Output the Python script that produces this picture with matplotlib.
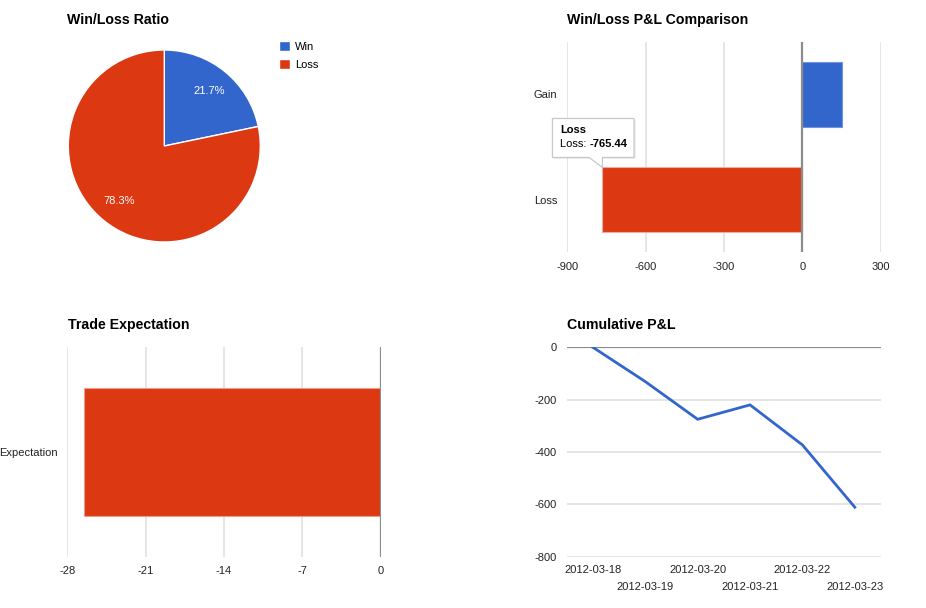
import matplotlib
matplotlib.use("Agg")
import matplotlib.pyplot as plt
import matplotlib.transforms as mtransforms
from matplotlib.patches import Polygon

plt.rcParams['font.family'] = ['Liberation Sans', 'DejaVu Sans']
plt.rcParams['axes.unicode_minus'] = False

# data
ratio_labels = ["Win", "Loss"]
ratio_counts = [5, 18]

pnl_categories = ["Gain", "Loss"]
pnl_values = [150.5, -765.44]

expect_categories = ["Expectation"]
expect_values = [-26.5]

cum_dates = ["2012-03-18", "2012-03-19", "2012-03-20", "2012-03-21", "2012-03-22", "2012-03-23"]
cum_values = [0, -131, -275, -220, -373, -611]

BLUE = "#3366cc"
RED = "#dc3912"
GRID = "#e3e3e3"
BASE = "#8c8c8c"
TXT = "#222222"

W, H = 926, 608
fig = plt.figure(figsize=(W / 100, H / 100), dpi=100)


def px_axes(left, top, right, bottom):
    return fig.add_axes([left / W, 1 - bottom / H, (right - left) / W, (bottom - top) / H])


def clean(ax):
    for s in ax.spines.values():
        s.set_visible(False)
    ax.tick_params(length=0, labelsize=8, colors=TXT)
    ax.set_axisbelow(True)


def title(x, y, s):
    fig.text(x / W, 1 - y / H, s, fontsize=10.2, fontweight="bold", va="center", ha="left", color="#000000")


# --- pie ---
title(67, 20, "Win/Loss Ratio")
r = 96
ax1 = px_axes(164.3 - r, 146 - r, 164.3 + r, 146 + r)
wedges, _, autotexts = ax1.pie(ratio_counts, colors=[BLUE, RED], startangle=90, counterclock=False,
                               autopct="%.1f%%", pctdistance=0.74,
                               wedgeprops=dict(edgecolor="white", linewidth=1),
                               textprops=dict(color="white", fontsize=8))
ax1.set_xlim(-1, 1)
ax1.set_ylim(-1, 1)
fig.legend(wedges, ratio_labels, loc="upper left", bbox_to_anchor=(279.3 / W, 1 - 41.5 / H),
           frameon=False, fontsize=8, handlelength=1.0, handleheight=1.0, handletextpad=0.45,
           labelspacing=0.6, borderpad=0, borderaxespad=0)

# --- win/loss P&L comparison ---
title(567, 20, "Win/Loss P&L Comparison")
ax2 = px_axes(567.3, 42, 880.7, 252)
clean(ax2)
ypos = list(range(len(pnl_categories)))
ax2.barh(ypos, pnl_values, height=0.61, color=[BLUE, RED], edgecolor=["#6f93e0", "#e8b0a5"], linewidth=0.8)
ax2.set_xlim(-900, 300)
ax2.set_ylim(len(pnl_categories) - 0.5, -0.5)
ax2.set_xticks([-900, -600, -300, 0, 300])
ax2.set_yticks(ypos)
ax2.set_yticklabels(pnl_categories)
ax2.tick_params(axis="y", pad=7)
ax2.tick_params(axis="x", pad=7)
ax2.grid(axis="x", color=GRID, linewidth=1.3)
ax2.axvline(0, color=BASE, linewidth=1.6)

# tooltip on the loss bar
anchor = mtransforms.Affine2D() + mtransforms.ScaledTranslation(pnl_values[1], 1 - 0.305, ax2.transData)
tip = Polygon([(-50, 10), (-50, 49), (31.6, 49), (31.6, 10), (0, 10), (0, 0), (-13.4, 10)],
              closed=True, facecolor="white", edgecolor="#c8c8c8", linewidth=0.9,
              transform=anchor, zorder=5, clip_on=False)
shadow = Polygon([(-48, 8), (-48, 47), (33.6, 47), (33.6, 8)], closed=True,
                 facecolor="#000000", alpha=0.06, edgecolor="none",
                 transform=anchor, zorder=4, clip_on=False)
ax2.add_patch(shadow)
ax2.add_patch(tip)
ax2.text(-42, 37.5, "Loss", transform=anchor, fontsize=8, fontweight="bold", va="center", zorder=6, color="#000000")
t1 = ax2.text(-42, 23, "Loss: ", transform=anchor, fontsize=8, va="center", zorder=6, color="#000000")
ax2.annotate("-765.44", xy=(1, 0.5), xycoords=t1, fontsize=8, fontweight="bold",
             va="center", ha="left", zorder=6, color="#000000")

# --- trade expectation ---
title(68, 325, "Trade Expectation")
ax3 = px_axes(67.3, 347.3, 380.7, 556.7)
clean(ax3)
ax3.barh([0], expect_values, height=0.615, color=RED, edgecolor="#ec9c8c", linewidth=0.8)
ax3.set_xlim(-28, 0)
ax3.set_ylim(0.5, -0.5)
ax3.set_xticks([-28, -21, -14, -7, 0])
ax3.set_yticks([0])
ax3.set_yticklabels(expect_categories)
ax3.tick_params(axis="y", pad=7)
ax3.tick_params(axis="x", pad=7)
ax3.grid(axis="x", color=GRID, linewidth=1.3)
ax3.axvline(0, color=BASE, linewidth=1.6)

# --- cumulative P&L ---
title(567, 325, "Cumulative P&L")
ax4 = px_axes(566.7, 347.3, 881, 556.7)
clean(ax4)
xs = list(range(len(cum_dates)))
ax4.plot(xs, cum_values, color=BLUE, linewidth=2, solid_joinstyle="miter")
ax4.set_xlim(-0.5, len(cum_dates) - 0.5)
ax4.set_ylim(-800, 0)
ax4.set_yticks([-800, -600, -400, -200, 0])
ax4.set_xticks(xs)
ax4.set_xticklabels(cum_dates)
ax4.grid(axis="y", color=GRID, linewidth=1.3)
ax4.axhline(0, color=BASE, linewidth=1.6, zorder=1)
ax4.tick_params(axis="y", pad=7)
for i, tk in enumerate(ax4.xaxis.get_major_ticks()):
    tk.set_pad(6 if i % 2 == 0 else 18.5)

fig.savefig("out.png", dpi=100, facecolor="white")
